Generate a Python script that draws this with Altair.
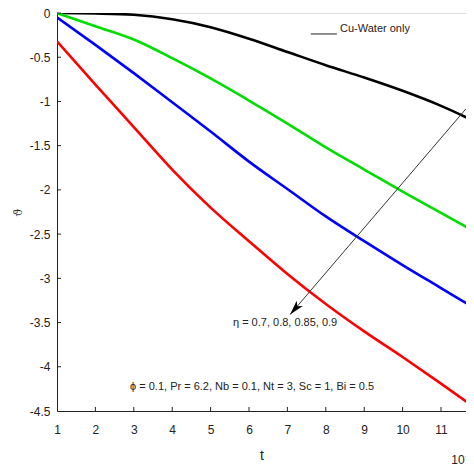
import altair as alt
import pandas as pd

t_vals = [1, 2, 3, 4, 5, 6, 7, 8, 9, 10, 11, 12]
cu_water = [0.0, -0.005, -0.02, -0.07, -0.16, -0.29, -0.44, -0.59, -0.73, -0.88, -1.05, -1.25]
eta_07 = [0.0, -0.15, -0.3, -0.51, -0.74, -0.99, -1.25, -1.52, -1.77, -2.02, -2.26, -2.5]
eta_08 = [-0.05, -0.36, -0.68, -1.01, -1.34, -1.68, -1.99, -2.3, -2.58, -2.85, -3.11, -3.37]
eta_085 = [-0.32, -0.81, -1.29, -1.77, -2.2, -2.58, -2.95, -3.29, -3.6, -3.89, -4.19, -4.5]

series_names = ["black", "green", "blue", "red"]
series_colors = ["#000000", "#00dd00", "#0000ff", "#ff0000"]
series_values = [cu_water, eta_07, eta_08, eta_085]

x_ticks = [1, 2, 3, 4, 5, 6, 7, 8, 9, 10, 11]
y_ticks = [0, -0.5, -1, -1.5, -2, -2.5, -3, -3.5, -4, -4.5]

X_MAX = 11.651
arrow_t = [X_MAX, 7.07]
arrow_v = [-1.083, -3.41]

W = 409
H = 398
FONT = "Liberation Sans"

rows = []
for name, vals in zip(series_names, series_values):
    for t, v in zip(t_vals, vals):
        rows.append({"t": t, "v": v, "s": name})
df = pd.DataFrame(rows)

xs = alt.Scale(domain=[1, X_MAX], nice=False)
ys = alt.Scale(domain=[-4.5, 0], nice=False)

x_axis = alt.Axis(values=x_ticks, grid=False, ticks=False, labelPadding=13,
                  labelFontSize=12, labelFont=FONT, labelColor="#222222",
                  domainColor="#222222", title="t", titleFont=FONT,
                  titleFontSize=14, titleFontWeight="normal", titlePadding=13,
                  titleColor="#222222", labelFlush=False)
y_axis = alt.Axis(values=y_ticks, grid=False, ticks=False, labelPadding=7,
                  labelFontSize=12, labelFont=FONT, labelColor="#222222",
                  labelExpr="toString(datum.value)",
                  domainColor="#222222", title="ϑ", titleFont="DejaVu Serif",
                  titleFontSize=11, titleFontWeight="normal", titlePadding=6,
                  titleColor="#333333", labelFlush=False)

lines = alt.Chart(df).mark_line(strokeWidth=2.6, interpolate="monotone", clip=True).encode(
    x=alt.X("t:Q", scale=xs, axis=x_axis),
    y=alt.Y("v:Q", scale=ys, axis=y_axis),
    color=alt.Color("s:N", scale=alt.Scale(domain=series_names, range=series_colors), legend=None),
)

xt = pd.DataFrame({"t": x_ticks[1:]})
xtick_marks = alt.Chart(xt).mark_rule(color="#222222", strokeWidth=1).encode(
    x=alt.X("t:Q", scale=xs), y=alt.value(H), y2=alt.value(H - 4))
yt = pd.DataFrame({"v": y_ticks[:-1]})
ytick_marks = alt.Chart(yt).mark_rule(color="#222222", strokeWidth=1).encode(
    y=alt.Y("v:Q", scale=ys), x=alt.value(0), x2=alt.value(4))

arr_df = pd.DataFrame({"t": [arrow_t[0]], "v": [arrow_v[0]], "t2": [arrow_t[1]], "v2": [arrow_v[1]]})
arrow_line = alt.Chart(arr_df).mark_rule(color="#333333", strokeWidth=1).encode(
    x=alt.X("t:Q", scale=xs), y=alt.Y("v:Q", scale=ys), x2="t2:Q", y2="v2:Q")
head_df = pd.DataFrame({"t": [arrow_t[1]], "v": [arrow_v[1]]})
arrow_head = alt.Chart(head_df).mark_point(
    shape="M0,0 L0.55,2 L0,1.5 L-0.55,2 Z", filled=True, color="#000000", opacity=1,
    size=220, angle=220.5, strokeWidth=0).encode(
    x=alt.X("t:Q", scale=xs), y=alt.Y("v:Q", scale=ys))

labels_df = pd.DataFrame({
    "t": [6.94, 6.08],
    "v": [-3.51, -4.23],
    "txt": ["η = 0.7, 0.8, 0.85, 0.9", "ϕ = 0.1, Pr = 6.2, Nb = 0.1, Nt = 3, Sc = 1, Bi = 0.5"],
})
labels = alt.Chart(labels_df).mark_text(font=FONT, fontSize=11, color="#222222",
                                        align="center", baseline="middle").encode(
    x=alt.X("t:Q", scale=xs), y=alt.Y("v:Q", scale=ys), text="txt:N")

cu_df = pd.DataFrame({"t": [8.37], "v": [-0.18], "txt": ["Cu-Water only"]})
cu_text = alt.Chart(cu_df).mark_text(font=FONT, fontSize=11, color="#222222",
                                     align="left", baseline="middle").encode(
    x=alt.X("t:Q", scale=xs), y=alt.Y("v:Q", scale=ys), text="txt:N")
cu_line_df = pd.DataFrame({"t": [7.61], "t2": [8.29], "v": [-0.237]})
cu_line = alt.Chart(cu_line_df).mark_rule(color="#222222", strokeWidth=1).encode(
    x=alt.X("t:Q", scale=xs), x2="t2:Q", y=alt.Y("v:Q", scale=ys))

exp_df = pd.DataFrame({"t": [11.27], "v": [-5.05], "txt": ["10⁻⁴"]})
exp_text = alt.Chart(exp_df).mark_text(font=FONT, fontSize=12, color="#222222",
                                       align="left", baseline="middle", clip=False).encode(
    x=alt.X("t:Q", scale=xs), y=alt.Y("v:Q", scale=ys), text="txt:N")

chart = alt.layer(lines, xtick_marks, ytick_marks, arrow_line, arrow_head,
                  labels, cu_line, cu_text, exp_text).properties(
    width=W, height=H,
    autosize=alt.AutoSizeParams(type="none"),
    padding={"left": 49, "top": 5, "right": 0, "bottom": 54},
).configure_view(stroke=None).configure(background="#ffffff")

chart.save("out.html", embed_options={"renderer": "svg", "actions": False})
